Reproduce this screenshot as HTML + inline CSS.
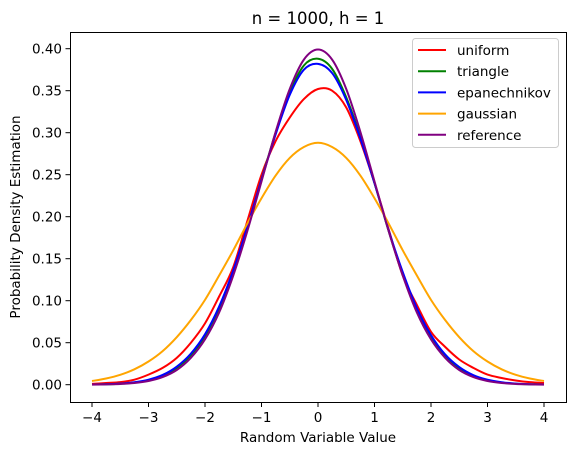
<!DOCTYPE html>
<html><head><meta charset="utf-8"><style>
body{margin:0;background:#fff}
svg text{font-family:"DejaVu Sans","Liberation Sans",sans-serif;fill:#000}
</style></head><body>
<svg id="chart" width="576" height="455">
<rect width="576" height="455" fill="#fff"/>
<text x="318" y="24" font-size="16.5" text-anchor="middle">n = 1000, h = 1</text>
<g id="axes"></g>
<g id="series"></g>
<rect x="70.5" y="32.5" width="496" height="370" fill="none" stroke="#000" stroke-width="1"/>
<text x="318" y="442" font-size="13.5" text-anchor="middle">Random Variable Value</text>
<text transform="translate(20,217) rotate(-90)" font-size="13.5" text-anchor="middle">Probability Density Estimation</text>
<g id="legend"></g>
</svg>
<script>
const xs=[-4,-3.75,-3.5,-3.25,-3,-2.75,-2.5,-2.25,-2,-1.75,-1.5,-1.25,-1,-0.75,-0.5,-0.25,0,0.25,0.5,0.75,1,1.25,1.5,1.75,2,2.25,2.5,2.75,3,3.25,3.5,3.75,4];
const uniformVals=[.001,.002,.003,.006,.012,.02,.032,.05,.073,.105,.14,.195,.25,.29,.318,.34,.352,.35,.33,.29,.24,.185,.13,.095,.063,.045,.03,.02,.012,.008,.005,.003,.002];
const triangleVals=[.0002,.0005,.0012,.0025,.0054,.0106,.020,.035,.058,.091,.133,.186,.244,.300,.348,.380,.388,.376,.342,.295,.240,.183,.131,.089,.057,.034,.019,.0104,.0053,.0025,.0011,.0005,.0002];
const epanVals=[.0002,.0006,.0013,.003,.006,.0116,.0215,.037,.060,.093,.136,.188,.244,.298,.345,.375,.382,.371,.339,.293,.240,.184,.134,.091,.059,.036,.021,.0114,.0059,.003,.0013,.0006,.0002];
const gaussVals=[.0044,.0074,.0118,.0183,.0276,.040,.0566,.077,.101,.130,.160,.192,.222,.249,.270,.283,.288,.283,.270,.249,.222,.192,.160,.130,.101,.077,.0566,.040,.0276,.0183,.0118,.0074,.0044];
const refVals=[.0001,.0004,.0009,.002,.0044,.0091,.0175,.032,.054,.086,.130,.183,.242,.301,.352,.387,.399,.387,.352,.301,.242,.183,.130,.086,.054,.032,.0175,.0091,.0044,.002,.0009,.0004,.0001];
const xTicks=[-4,-3,-2,-1,0,1,2,3,4];
const yTicks=[0,0.05,0.1,0.15,0.2,0.25,0.3,0.35,0.4];
const names=["uniform","triangle","epanechnikov","gaussian","reference"];
const colors=["#ff0000","#008000","#0000ff","#ffa500","#800080"];
const series=[uniformVals,triangleVals,epanVals,gaussVals,refVals];
const X=v=>318+v*56.5, Y=v=>384.7-v*840;
const NS="http://www.w3.org/2000/svg";
const axes=document.getElementById('axes');
function mk(t,a,p){const e=document.createElementNS(NS,t);for(const k in a)e.setAttribute(k,a[k]);p.appendChild(e);return e;}
xTicks.forEach(v=>{
 const l=mk('line',{x1:X(v),x2:X(v),y1:402.5,y2:407,stroke:'#000'},axes);
 
 
 const t=mk('text',{x:X(v),y:422,'font-size':13.5,'text-anchor':'middle'},axes);t.textContent=String(v).replace('-','\u2212');
 
 
});
yTicks.forEach(v=>{
 const l=mk('line',{x1:65.5,x2:70.5,y1:Y(v),y2:Y(v),stroke:'#000'},axes);
 
 
 const t=mk('text',{x:62,y:Y(v)+5,'font-size':13.5,'text-anchor':'end'},axes);t.textContent=v.toFixed(2);
 
 
});
function smooth(pts){let d=`M${pts[0][0]},${pts[0][1]}`;for(let i=0;i<pts.length-1;i++){const p0=pts[i-1]||pts[i],p1=pts[i],p2=pts[i+1],p3=pts[i+2]||p2;
 d+=` C${p1[0]+(p2[0]-p0[0])/6},${p1[1]+(p2[1]-p0[1])/6} ${p2[0]-(p3[0]-p1[0])/6},${p2[1]-(p3[1]-p1[1])/6} ${p2[0]},${p2[1]}`;}return d;}
const sg=document.getElementById('series');
series.forEach((vals,i)=>{
 const pts=xs.map((x,j)=>[X(x),Y(vals[j])]);
 const p=mk('path',{d:smooth(pts),fill:'none',stroke:colors[i],'stroke-width':2},sg);
 
 
});
const lg=document.getElementById('legend');
mk('rect',{x:412.5,y:38.5,width:146,height:109,rx:3,fill:'#fff','fill-opacity':0.8,stroke:'#ccc'},lg);
names.forEach((n,i)=>{
 const y=50+i*21.2;
 const l=mk('line',{x1:418,x2:446,y1:y,y2:y,stroke:colors[i],'stroke-width':2},lg);
 
 
 const t=mk('text',{x:457,y:y+5,'font-size':13.5},lg);t.textContent=n;
 
 
});
</script>
</body></html>
